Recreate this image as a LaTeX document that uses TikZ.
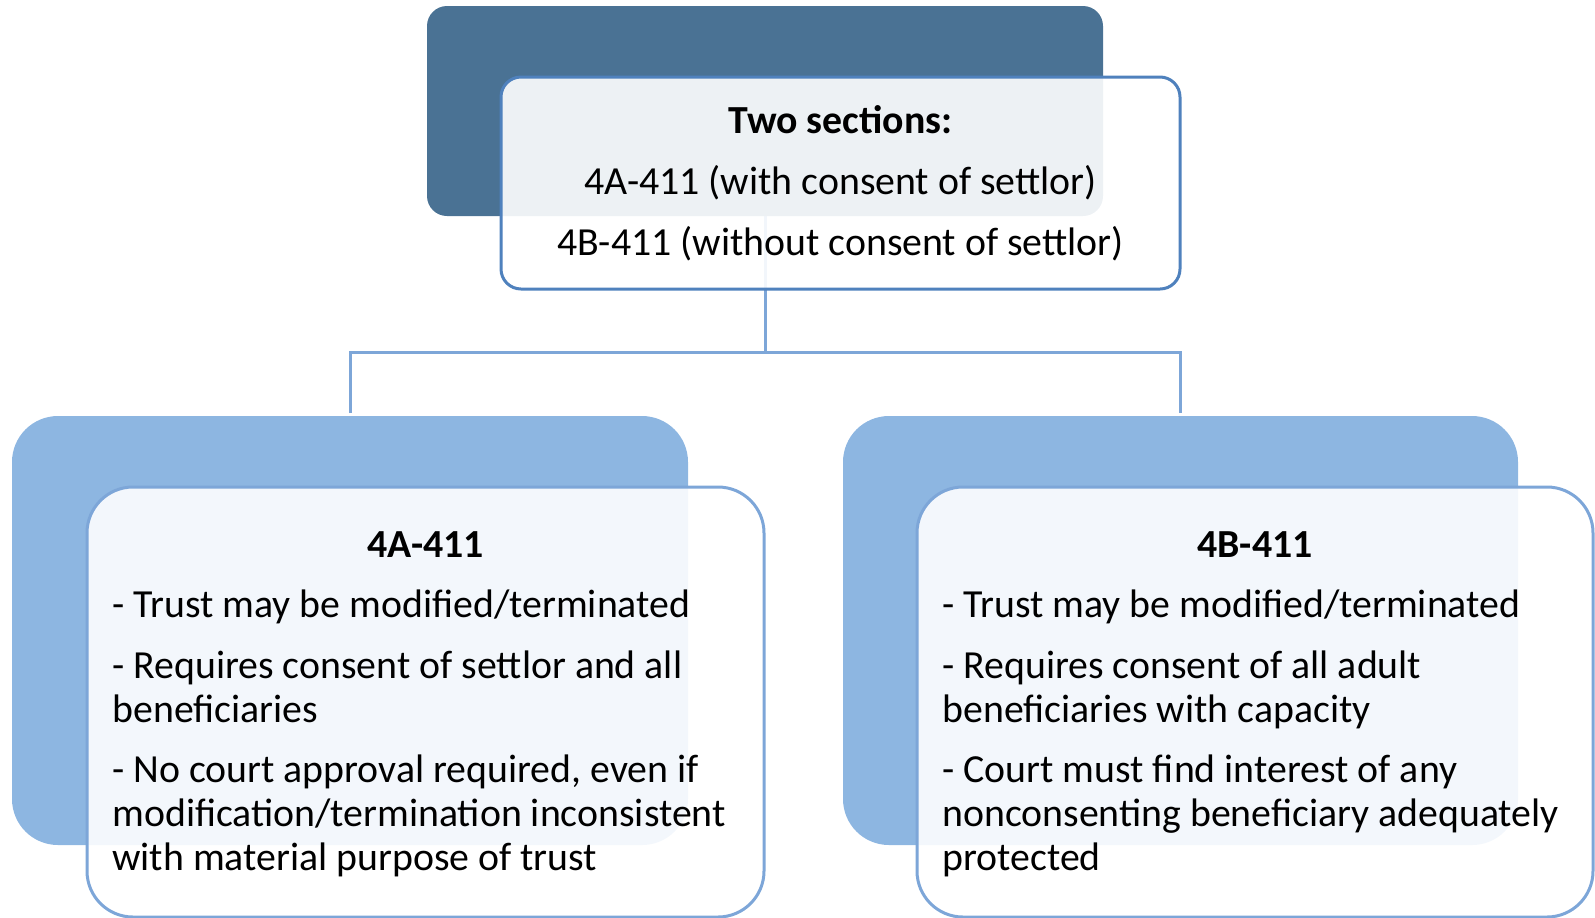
\documentclass[tikz,border=0pt]{standalone}
\usepackage{fontspec}
\setmainfont{Carlito}
\definecolor{darkbox}{RGB}{74,114,148}
\definecolor{lightbox}{RGB}{141,182,225}
\definecolor{topborder}{RGB}{79,129,189}
\definecolor{lowborder}{RGB}{125,166,216}
\pgfdeclarelayer{bg}
\pgfsetlayers{bg,main}
\begin{document}
\begin{tikzpicture}[x=0.5pt,y=-0.5pt,
  box/.style={inner sep=0pt, outer sep=0pt, anchor=north west},
  darkback/.style={box, fill=darkbox, rounded corners=10pt},
  lightback/.style={box, fill=lightbox, rounded corners=23pt},
  topfront/.style={box, fill=white, fill opacity=0.9, draw=topborder, line width=1.5pt, rounded corners=10pt},
  lowfront/.style={box, fill=white, fill opacity=0.9, draw=lowborder, line width=1.5pt, rounded corners=23pt},
  conn/.style={draw=lowborder, line width=1.5pt},
  txt/.style={inner sep=0pt, font=\fontsize{19.9}{24}\selectfont},
  ttl/.style={txt, font=\fontsize{19.9}{24}\selectfont\bfseries, anchor=base},
  lft/.style={txt, anchor=base west}]
\useasboundingbox (0,0) rectangle (1595,917);

% back boxes
\node[darkback, minimum width=338pt, minimum height=105pt] (dark) at (427,6) {};
\node[lightback, minimum width=338pt, minimum height=214.5pt] (lback) at (12,416) {};
\node[lightback, minimum width=337.5pt, minimum height=214.5pt] (rback) at (843,416) {};

% connectors
\coordinate (junction) at (765,352);
\begin{pgfonlayer}{bg}
\draw[conn] (dark.south) -- (junction);
\draw[conn, shorten <=1.5pt, shorten >=1.5pt] (lback.north) |- (junction) -| (rback.north);
\end{pgfonlayer}

% front boxes
\node[topfront, minimum width=339.5pt, minimum height=106pt] (top) at (501,77) {};
\node[lowfront, minimum width=338.5pt, minimum height=215pt] (lfront) at (87,487) {};
\node[lowfront, minimum width=338pt, minimum height=215pt] (rfront) at (917,487) {};

% top texts
\node[ttl] (ttitle) at (840.5,133) {Two sections:};
\node[txt, anchor=base] (tline1) at (840.5,194) {4A-411 (with consent of settlor)};
\node[txt, anchor=base] (tline2) at (840.5,255) {4B-411 (without consent of settlor)};

% left texts
\node[ttl] (ltitle) at (425.5,557) {4A-411};
\node[lft] (la1) at (112,617) {- Trust may be modified/terminated};
\node[lft] (lb1) at (112,678) {- Requires consent of settlor and all};
\node[lft] (lb2) at (112,722) {beneficiaries};
\node[lft] (lc1) at (112,782) {- No court approval required, even if};
\node[lft] (lc2) at (112,826) {modification/termination inconsistent};
\node[lft] (lc3) at (112,870) {with material purpose of trust};

% right texts
\node[ttl] (rtitle) at (1255,557) {4B-411};
\node[lft] (ra1) at (942,617) {- Trust may be modified/terminated};
\node[lft] (rb1) at (942,678) {- Requires consent of all adult};
\node[lft] (rb2) at (942,722) {beneficiaries with capacity};
\node[lft] (rc1) at (942,782) {- Court must find interest of any};
\node[lft] (rc2) at (942,826) {nonconsenting beneficiary adequately};
\node[lft] (rc3) at (942,870) {protected};
\end{tikzpicture}
\end{document}
